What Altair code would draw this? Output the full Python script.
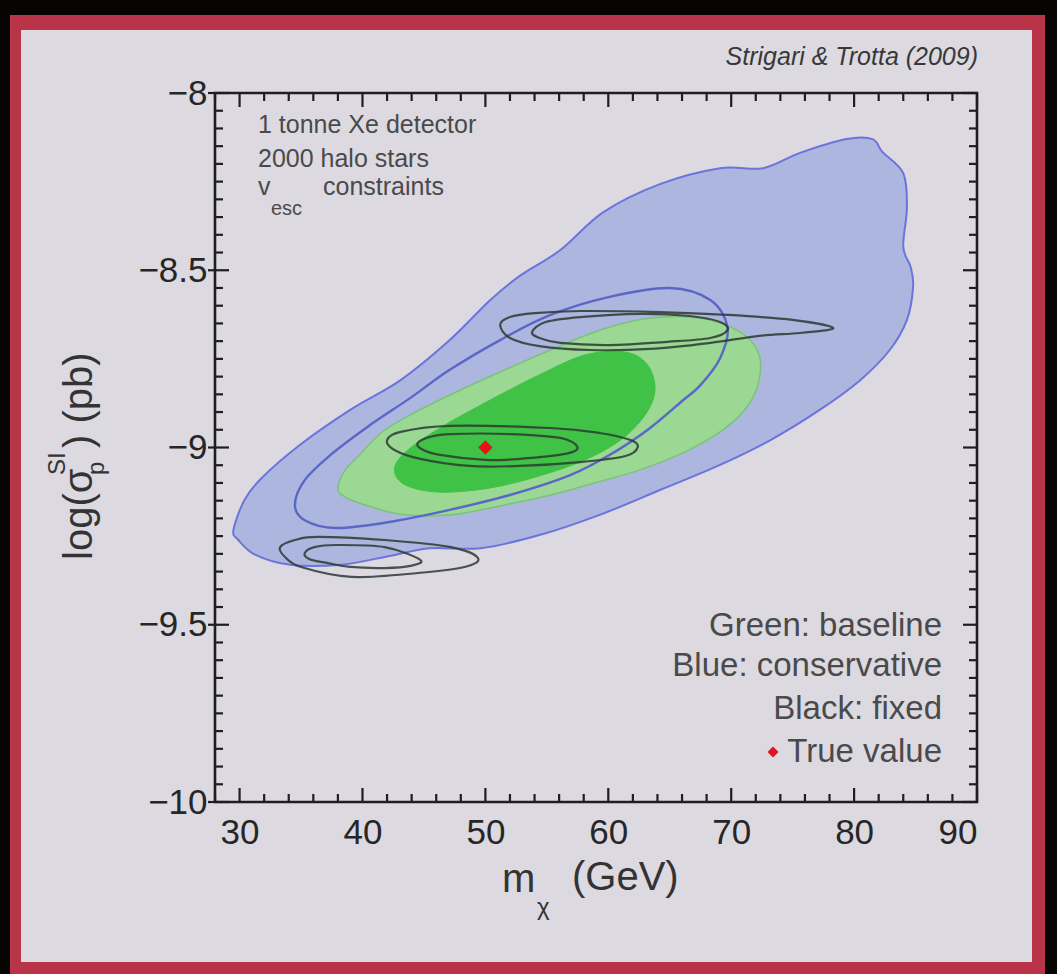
import altair as alt
import numpy as np
import pandas as pd

# Plot area size (pixels) and padding around it
W, H = 762, 709
PAD = {"left": 215, "top": 93, "right": 80, "bottom": 172}
FONT = "Liberation Sans"

# Contour outlines: WIMP mass m_chi (GeV) and log10 of the SI cross-section (pb)
blue_outer_m = [29.5, 30.4, 31.8, 34.9, 39.0, 43.1, 47.1, 50.4, 52.8, 56.1, 59.6, 64.2, 69.1, 72.6,
                75.6, 79.4, 81.5, 82.3, 84.0, 84.3, 84.0, 84.6, 84.8, 84.3, 82.9, 80.5, 77.2, 73.2,
                69.1, 64.2, 59.3, 54.4, 49.6, 45.5, 42.2, 38.2, 34.1, 31.3, 29.9]
blue_outer_s = [-9.233, -9.148, -9.086, -8.993, -8.894, -8.810, -8.697, -8.584, -8.516, -8.443,
                -8.336, -8.257, -8.212, -8.212, -8.169, -8.130, -8.130, -8.166, -8.226, -8.322,
                -8.434, -8.491, -8.547, -8.640, -8.725, -8.810, -8.894, -8.979, -9.049, -9.120,
                -9.190, -9.247, -9.284, -9.284, -9.306, -9.331, -9.331, -9.303, -9.261]

blue_inner_m = [34.5, 35.3, 37.4, 40.4, 43.9, 47.1, 51.2, 55.3, 60.1, 65.0, 68.3, 69.7, 69.1, 67.5,
                66.1, 63.4, 60.5, 56.9, 52.0, 47.1, 42.2, 37.8, 35.3]
blue_inner_s = [-9.162, -9.092, -9.021, -8.942, -8.860, -8.781, -8.697, -8.626, -8.575, -8.550,
                -8.584, -8.660, -8.748, -8.824, -8.866, -8.945, -9.013, -9.078, -9.134, -9.176,
                -9.210, -9.227, -9.205]

green_outer_m = [38.0, 38.6, 39.6, 41.5, 43.9, 47.1, 51.2, 55.3, 59.3, 63.4, 67.5, 70.7, 72.2, 72.3,
                 71.4, 69.3, 66.2, 62.6, 59.2, 55.3, 52.7, 47.2, 43.1, 40.2, 38.6]
green_outer_s = [-9.114, -9.063, -9.027, -8.959, -8.908, -8.852, -8.787, -8.725, -8.669, -8.635,
                 -8.635, -8.674, -8.731, -8.804, -8.880, -8.951, -9.013, -9.063, -9.097, -9.134,
                 -9.154, -9.190, -9.188, -9.162, -9.140]

green_inner_m = [42.6, 43.5, 46.3, 50.4, 54.4, 58.1, 61.4, 63.2, 63.8, 63.0, 61.0, 58.1, 54.4, 50.4,
                 46.3, 43.5]
green_inner_s = [-9.063, -9.013, -8.945, -8.866, -8.795, -8.739, -8.731, -8.767, -8.838, -8.908,
                 -8.979, -9.035, -9.080, -9.114, -9.126, -9.106]

# Fixed-halo contours (three pairs of 68% / 95% regions)
fixed_mid_outer_m = [42.0, 43.1, 47.1, 55.3, 59.3, 61.8, 62.4, 61.4, 57.7, 52.8, 48.7, 44.7, 42.6]
fixed_mid_outer_s = [-8.979, -8.956, -8.939, -8.945, -8.959, -8.979, -8.999, -9.024, -9.041,
                     -9.052, -9.052, -9.032, -9.007]
fixed_mid_inner_m = [44.5, 45.5, 47.2, 52.0, 56.1, 57.5, 56.5, 52.8, 50.0, 46.3, 44.8]
fixed_mid_inner_s = [-8.987, -8.970, -8.962, -8.962, -8.973, -8.999, -9.018, -9.032, -9.035,
                     -9.021, -9.004]

fixed_up_outer_m = [51.2, 52.0, 54.0, 57.7, 64.2, 69.7, 75.0, 78.3, 75.6, 72.3, 68.3, 63.4, 58.5,
                    54.4, 52.0]
fixed_up_outer_s = [-8.654, -8.632, -8.621, -8.615, -8.618, -8.626, -8.640, -8.663, -8.677,
                    -8.685, -8.705, -8.722, -8.725, -8.714, -8.691]
fixed_up_inner_m = [53.8, 54.9, 57.7, 62.6, 66.6, 69.1, 69.7, 68.3, 64.8, 60.1, 56.1, 54.4]
fixed_up_inner_s = [-8.674, -8.646, -8.632, -8.623, -8.629, -8.646, -8.669, -8.691, -8.702,
                    -8.711, -8.705, -8.691]

fixed_low_outer_m = [33.3, 34.5, 36.4, 41.8, 47.2, 49.4, 48.3, 44.5, 39.1, 35.0, 33.7]
fixed_low_outer_s = [-9.281, -9.261, -9.252, -9.261, -9.281, -9.312, -9.337, -9.354, -9.365,
                     -9.337, -9.309]
fixed_low_inner_m = [35.3, 36.1, 37.8, 41.8, 44.7, 43.9, 41.8, 39.0, 37.2, 35.7]
fixed_low_inner_s = [-9.298, -9.281, -9.275, -9.281, -9.317, -9.334, -9.340, -9.337, -9.326,
                     -9.315]

true_m = [50.0]
true_s = [-9.0]

# Axis ticks
x_labels = [30, 40, 50, 60, 70, 80, 90]
y_labels = [-10, -9.5, -9, -8.5, -8]
x_minor = [v for v in range(28, 91, 2) if v % 10 != 0]
y_minor = [round(v, 2) for v in np.arange(-10, -7.99, 0.05) if abs(round(v * 2) - v * 2) > 1e-6]

one = pd.DataFrame({"k": [0]})

x_scale = alt.Scale(domain=[28, 90], nice=False, zero=False)
y_scale = alt.Scale(domain=[-10, -8], nice=False, zero=False)
x_axis = alt.Axis(values=x_labels, format="d", ticks=False, domain=False, grid=False, zindex=2,
                  labelFont=FONT, labelFontSize=35, labelColor="#262626", labelPadding=13)
y_axis = alt.Axis(values=y_labels, format="~g", ticks=False, domain=False, grid=False, zindex=2,
                  labelFont=FONT, labelFontSize=35, labelColor="#262626", labelPadding=8)


def X(field="m"):
    return alt.X(f"{field}:Q", scale=x_scale, axis=x_axis, title=None)


def Y(field="s"):
    return alt.Y(f"{field}:Q", scale=y_scale, axis=y_axis, title=None)


def outline(m, s):
    return pd.DataFrame({"m": m, "s": s, "i": list(range(len(m)))})


def region(m, s, fill, stroke, width):
    return alt.Chart(outline(m, s)).mark_line(
        interpolate="cardinal-closed", fill=fill, stroke=stroke, strokeWidth=width
    ).encode(x=X(), y=Y(), order="i:Q")


def contour(m, s, stroke, width, opacity=1.0):
    return alt.Chart(outline(m, s)).mark_line(
        interpolate="cardinal-closed", stroke=stroke, strokeWidth=width, strokeOpacity=opacity
    ).encode(x=X(), y=Y(), order="i:Q")


def box(x0, x1, y0, y1, color):
    return alt.Chart(one).mark_rect(color=color).encode(
        x=alt.value(x0), x2=alt.value(x1), y=alt.value(y0), y2=alt.value(y1))


def text(t, x, y, size, align="left", color="#3c3c3c", **kw):
    return alt.Chart(one).mark_text(
        text=t, font=FONT, fontSize=size, align=align, baseline="middle", color=color, **kw
    ).encode(x=alt.value(x), y=alt.value(y))


# Slide frame
frame = [
    box(-205, 830, -78, 881, "#b93448"),
    box(-194, 817, -63, 869, "#dcd9e1"),
]

regions = [
    region(blue_outer_m, blue_outer_s, "#adb6de", "#6b74dc", 2),
    region(green_outer_m, green_outer_s, "#9ad894", "#7cc27a", 1.5),
    region(green_inner_m, green_inner_s, "#3fc245", "#3fc245", 1),
    contour(blue_inner_m, blue_inner_s, "#5a66c8", 2.4),
]

fixed = [
    contour(m, s, "#2d3a33", 2.2, 0.85)
    for m, s in [
        (fixed_mid_outer_m, fixed_mid_outer_s), (fixed_mid_inner_m, fixed_mid_inner_s),
        (fixed_up_outer_m, fixed_up_outer_s), (fixed_up_inner_m, fixed_up_inner_s),
        (fixed_low_outer_m, fixed_low_outer_s), (fixed_low_inner_m, fixed_low_inner_s),
    ]
]

truth = alt.Chart(pd.DataFrame({"m": true_m, "s": true_s})).mark_point(
    shape="diamond", filled=True, color="#e3141c", size=210, opacity=1
).encode(x=X(), y=Y())


# Inward-pointing ticks on all four sides
def xticks(values, length):
    df = pd.DataFrame({"m": values})
    bottom = alt.Chart(df).mark_rule(color="#1e1e1e", strokeWidth=2.2).encode(
        x=X(), y=alt.value(H), y2=alt.value(H - length))
    top = alt.Chart(df).mark_rule(color="#1e1e1e", strokeWidth=2.2).encode(
        x=X(), y=alt.value(0), y2=alt.value(length))
    return [bottom, top]


def yticks(values, length, outward=0):
    df = pd.DataFrame({"s": values})
    left = alt.Chart(df).mark_rule(color="#1e1e1e", strokeWidth=2.2).encode(
        y=Y(), x=alt.value(-outward), x2=alt.value(length))
    right = alt.Chart(df).mark_rule(color="#1e1e1e", strokeWidth=2.2).encode(
        y=Y(), x=alt.value(W), x2=alt.value(W - length))
    return [left, right]


ticks = (xticks(x_labels, 14) + xticks(x_minor, 8)
         + yticks(y_labels, 14, outward=7) + yticks(y_minor, 8))

outline_box = alt.Chart(one).mark_rect(filled=False, color="#1e1e1e", strokeWidth=2.6).encode(
    x=alt.value(0), x2=alt.value(W), y=alt.value(0), y2=alt.value(H))

notes = [
    text("Strigari & Trotta (2009)", 763, -36, 25, align="right", color="#383838",
         fontStyle="italic"),
    text("1 tonne Xe detector", 43, 32, 25, color="#4a4a4a"),
    text("2000 halo stars", 43, 66, 25, color="#4a4a4a"),
    text("v", 43, 94, 25, color="#4a4a4a"),
    text("esc", 56, 116, 20, color="#4a4a4a"),
    text("constraints", 108, 94, 25, color="#4a4a4a"),
    text("Green: baseline", 727, 533, 33, align="right", color="#4a4a4a"),
    text("Blue: conservative", 727, 573, 33, align="right", color="#4a4a4a"),
    text("Black: fixed", 727, 616, 33, align="right", color="#4a4a4a"),
    text("True value", 727, 659, 33, align="right", color="#4a4a4a"),
]

legend_mark = alt.Chart(one).mark_point(
    shape="diamond", filled=True, color="#e3141c", size=120, opacity=1
).encode(x=alt.value(558), y=alt.value(659))

# Axis titles with sub/superscripts
titles = [
    text("m", 287, 787, 40, color="#333333"),
    text("\u03c7", 322, 815, 24, color="#333333"),
    text("(GeV)", 357, 785, 40, color="#333333"),
    text("log(\u03c3", -135, 467, 40, color="#333333", angle=270),
    text("SI", -157, 382, 24, color="#333333", angle=270),
    text("p", -118, 382, 24, color="#333333", angle=270),
    text(") (pb)", -135, 355, 40, color="#333333", angle=270),
]

chart = alt.layer(
    *frame, *regions, *fixed, truth, *ticks, outline_box, *notes, legend_mark, *titles
).properties(
    width=W, height=H, padding=PAD, background="#070404",
    autosize=alt.AutoSizeParams(type="none"),
).configure_view(stroke=None)

chart.save("out.html", embed_options={"renderer": "svg", "actions": False})
